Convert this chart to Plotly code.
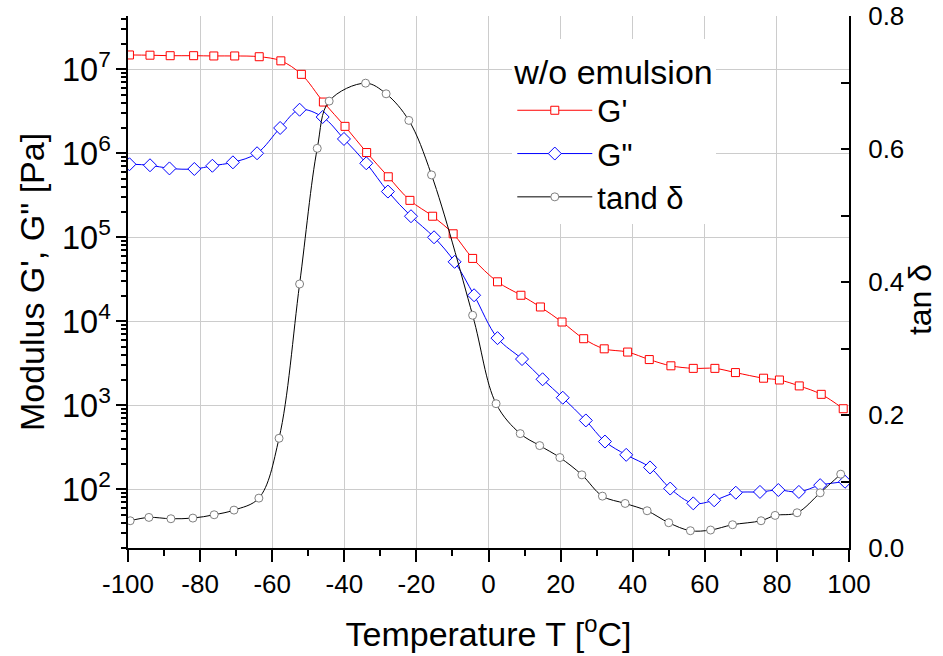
import plotly.graph_objects as go

# Storage modulus G' [Pa] vs temperature [°C]
temp_gp = [-99.6, -93.9, -88.3, -81.8, -76.2, -70.4, -63.6, -57.6, -51.9, -45.8,
           -39.8, -33.8, -27.8, -21.8, -15.5, -9.8, -4.4, 2.5, 9.0, 14.4,
           20.4, 26.4, 32.1, 38.6, 44.6, 50.6, 56.8, 62.8, 68.5, 76.3,
           80.7, 86.2, 92.3, 98.4]
g_storage = [1.48e7, 1.47e7, 1.45e7, 1.45e7, 1.44e7, 1.44e7, 1.41e7, 1.26e7, 8.7e6, 4.07e6,
             2.09e6, 1.02e6, 5.25e5, 2.75e5, 1.78e5, 1.10e5, 5.6e4, 2.95e4, 2.04e4, 1.48e4,
             9.8e3, 6.2e3, 4.7e3, 4.3e3, 3.5e3, 2.95e3, 2.75e3, 2.75e3, 2.45e3, 2.1e3,
             2.0e3, 1.7e3, 1.35e3, 910]

# Loss modulus G" [Pa]
temp_gpp = [-99.6, -93.9, -88.5, -81.6, -76.6, -70.9, -64.2, -57.8, -52.4, -46.0,
            -40.1, -33.9, -27.9, -21.5, -15.1, -9.4, -4.0, 2.5, 9.3, 15.0,
            20.6, 27.0, 32.3, 38.2, 44.8, 50.4, 56.8, 62.6, 68.6, 75.3,
            80.4, 86.1, 92.0, 98.9]
g_loss = [7.4e5, 7.2e5, 6.6e5, 6.5e5, 7.1e5, 7.8e5, 1.0e6, 2.0e6, 3.3e6, 2.7e6,
          1.48e6, 7.6e5, 3.5e5, 1.78e5, 1.0e5, 5.1e4, 2.04e4, 6.3e3, 3.55e3, 2.04e3,
          1.23e3, 660, 370, 257, 182, 102, 68, 74, 91, 93,
          98, 93, 112, 123]

# Loss factor tan δ
temp_tan = [-99.4, -94.2, -88.1, -82.0, -76.1, -70.6, -63.7, -58.1, -52.4, -47.5,
            -44.2, -34.1, -28.4, -22.1, -15.8, -4.4, 2.1, 8.8, 14.2, 19.8,
            25.9, 31.6, 37.9, 44.0, 50.0, 56.0, 61.6, 67.7, 75.6, 79.5,
            85.6, 92.0, 97.7]
tan_delta = [0.041, 0.046, 0.044, 0.045, 0.050, 0.057, 0.075, 0.165, 0.397, 0.601,
             0.672, 0.699, 0.683, 0.643, 0.561, 0.350, 0.217, 0.172, 0.154, 0.136,
             0.110, 0.078, 0.067, 0.056, 0.038, 0.026, 0.027, 0.035, 0.041, 0.049,
             0.053, 0.083, 0.111]

x_ticks = list(range(-100, 101, 20))
x_ticktext = [str(v) for v in x_ticks]  # plain hyphen for negatives
y2_ticks = [0.0, 0.2, 0.4, 0.6, 0.8]

FONT = "Liberation Sans, Arial, sans-serif"
GRID = "#cccccc"

fig = go.Figure()
fig.add_trace(go.Scatter(
    x=temp_gp, y=g_storage, name="G'", mode="lines+markers",
    line=dict(color="#ff0000", width=1, shape="spline", smoothing=1),
    marker=dict(symbol="square", size=8, color="white",
                line=dict(color="#ff0000", width=1)),
))
fig.add_trace(go.Scatter(
    x=temp_gpp, y=g_loss, name='G"', mode="lines+markers",
    line=dict(color="#0000ff", width=1, shape="spline", smoothing=1),
    marker=dict(symbol="diamond", size=10, color="white",
                line=dict(color="#0000ff", width=1)),
))
fig.add_trace(go.Scatter(
    x=temp_tan, y=tan_delta, name="tand δ", mode="lines+markers", yaxis="y2",
    line=dict(color="black", width=1, shape="spline", smoothing=1),
    marker=dict(symbol="circle", size=8, color="white",
                line=dict(color="#808080", width=1)),
))

axis_common = dict(
    showline=True, linecolor="black", linewidth=2,
    tickcolor="black", tickwidth=2, zeroline=False, automargin=False,
    tickfont=dict(size=26, color="black"),
)

fig.update_layout(
    width=943, height=656,
    margin=dict(l=128, r=94, t=16, b=108),
    paper_bgcolor="white", plot_bgcolor="white",
    font=dict(family=FONT, size=26, color="black"),
    xaxis=dict(
        range=[-100, 100], tickvals=x_ticks, ticktext=x_ticktext,
        ticks="outside", ticklen=12,
        showgrid=True, gridcolor=GRID, gridwidth=1,
        minor=dict(dtick=10, tick0=0, ticks="outside", ticklen=6,
                   tickwidth=2, tickcolor="black", showgrid=False),
        title=dict(text="Temperature T [<sup>o</sup>C]", font=dict(size=34), standoff=24),
        **axis_common,
    ),
    yaxis=dict(
        type="log", range=[1.301, 7.634], dtick=1,
        exponentformat="power", showexponent="all",
        ticks="outside", ticklen=10,
        showgrid=True, gridcolor=GRID, gridwidth=1,
        minor=dict(dtick="D1", ticks="outside", ticklen=5,
                   tickwidth=2, tickcolor="black", showgrid=False),
        title=dict(text='Modulus G\', G" [Pa]', font=dict(size=34), standoff=7),
        **axis_common,
    ),
    yaxis2=dict(
        overlaying="y", side="right", range=[0, 0.8],
        tickvals=y2_ticks, tickformat=".1f",
        ticks="inside", ticklen=8, showgrid=False, ticklabelstandoff=12,
        minor=dict(dtick=0.1, tick0=0, ticks="inside", ticklen=8,
                   tickwidth=2, tickcolor="black", showgrid=False),
        **axis_common,
    ),
    legend=dict(
        x=0.533, y=0.956, xanchor="left", yanchor="top",
        bgcolor="white", borderwidth=0,
        font=dict(size=31, color="black"),
        title=dict(text="w/o emulsion", font=dict(size=34)),
        tracegroupgap=0, itemwidth=75,
    ),
    showlegend=True,
)

# Right-hand axis title, placed beside the 0.0–0.8 tick labels
fig.add_annotation(
    text="tan δ", xref="paper", yref="paper", x=1.0985, y=0.466,
    xanchor="center", yanchor="middle", textangle=-90, showarrow=False,
    font=dict(size=32, color="black"),
)

fig.write_html("out.html")
